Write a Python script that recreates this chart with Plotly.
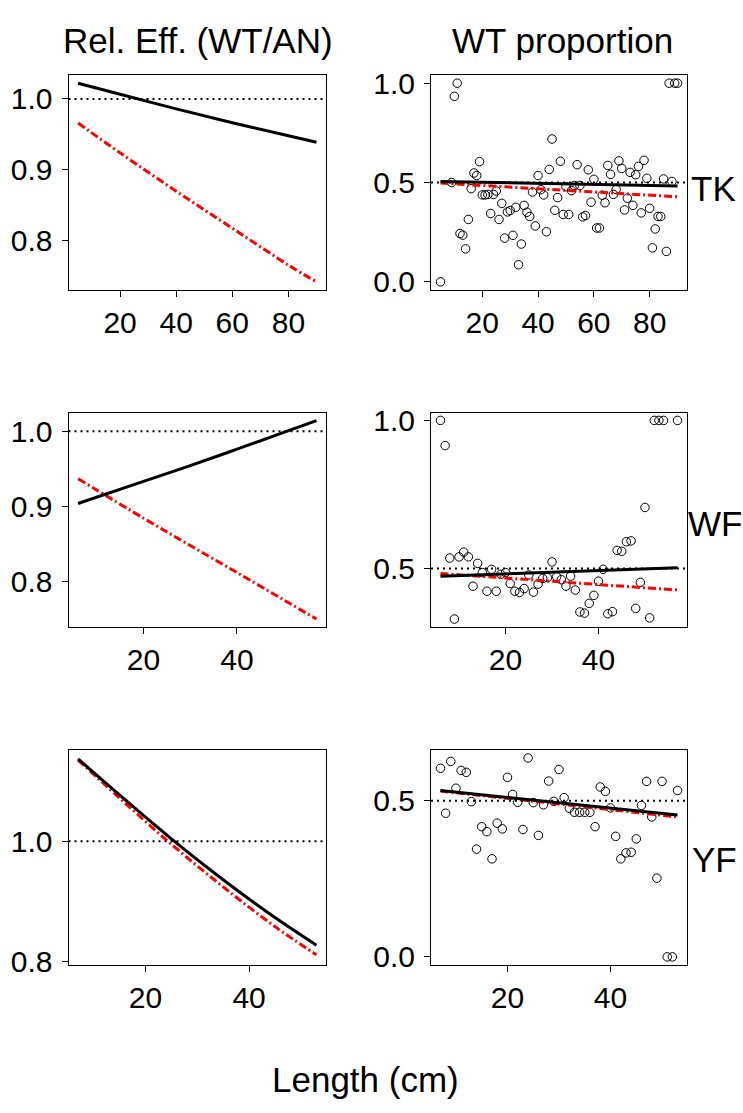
import plotly.graph_objects as go

# ---------------- data ----------------
# TK
tk_x = [5, 9, 10, 11, 12, 13, 14, 15, 16, 17, 18, 19, 20, 21, 22, 23, 24, 25, 26, 27, 28, 29, 30,
        31, 32, 33, 34, 35, 36, 37, 38, 39, 40, 41, 42, 43, 44, 45, 46, 47, 48, 49, 50, 51, 52, 53,
        54, 55, 56, 57, 58, 59, 60, 61, 62, 63, 64, 65, 66, 67, 68, 69, 70, 71, 72, 73, 74, 75, 76,
        77, 78, 79, 80, 81, 82, 83, 84, 85, 86, 87, 88, 89, 90]
tk_p = [0.0, 0.5, 0.934, 1.0, 0.243, 0.235, 0.166, 0.314, 0.469, 0.548, 0.535, 0.605, 0.4375,
        0.4375, 0.44, 0.344, 0.44, 0.457, 0.314, 0.395, 0.22, 0.352, 0.359, 0.234, 0.375, 0.086,
        0.19, 0.385, 0.35, 0.329, 0.452, 0.281, 0.535, 0.464, 0.4375, 0.252, 0.566, 0.719, 0.36,
        0.424, 0.607, 0.339, 0.479, 0.339, 0.459, 0.485, 0.59, 0.485, 0.327, 0.334, 0.564, 0.401,
        0.516, 0.271, 0.271, 0.436, 0.398, 0.586, 0.541, 0.44, 0.465, 0.609, 0.571, 0.362, 0.421,
        0.551, 0.385, 0.539, 0.581, 0.347, 0.612, 0.521, 0.37, 0.171, 0.266, 0.329, 0.329, 0.518,
        0.153, 1.0, 0.505, 1.0, 1.0]
tk_eff_x = [5, 20, 40, 60, 80, 90]
tk_eff_black = [1.022, 1.0065, 0.986, 0.9665, 0.948, 0.939]
tk_eff_red = [0.966, 0.924, 0.870, 0.818, 0.766, 0.7425]
tk_prop_x = [5, 90]
tk_prop_black = [0.505, 0.482]
tk_prop_red = [0.497, 0.428]

# WF
wf_x = list(range(6, 52)) + [52, 53, 54, 57]
wf_p = [1.0, 0.915, 0.535, 0.329, 0.539, 0.555, 0.539, 0.44, 0.517, 0.486, 0.423, 0.497, 0.423,
        0.48, 0.486, 0.449, 0.423, 0.419, 0.432, 0.478, 0.42, 0.447, 0.466, 0.469, 0.522, 0.472,
        0.462, 0.44, 0.474, 0.427, 0.353, 0.349, 0.382, 0.409, 0.457, 0.497, 0.347, 0.354, 0.561,
        0.558, 0.59, 0.593, 0.365, 0.453, 0.706, 0.333, 1.0, 1.0, 1.0, 1.0]
wf_eff_x = [6, 20, 30, 40, 50, 57]
wf_eff_black = [0.9035, 0.933, 0.954, 0.976, 0.9985, 1.014]
wf_eff_red = [0.9366, 0.884, 0.8475, 0.8115, 0.775, 0.7495]
wf_prop_x = [6, 57]
wf_prop_black = [0.474, 0.502]
wf_prop_red = [0.483, 0.427]

# YF
yf_x = list(range(7, 54))
yf_p = [0.604, 0.46, 0.626, 0.54, 0.597, 0.591, 0.497, 0.345, 0.417, 0.401, 0.314, 0.428, 0.41,
        0.575, 0.52, 0.495, 0.408, 0.637, 0.494, 0.389, 0.487, 0.563, 0.498, 0.6, 0.51, 0.476,
        0.463, 0.463, 0.463, 0.463, 0.417, 0.544, 0.53, 0.477, 0.386, 0.314, 0.333, 0.335, 0.378,
        0.485, 0.562, 0.448, 0.252, 0.562, 0.0, 0.0, 0.533]
yf_eff_x = [7, 15, 25, 35, 45, 53]
yf_eff_black = [1.137, 1.077, 1.004, 0.936, 0.873, 0.827]
yf_eff_red = [1.135, 1.072, 0.995, 0.924, 0.858, 0.811]
yf_prop_x = [7, 53]
yf_prop_black = [0.533, 0.454]
yf_prop_red = [0.531, 0.448]

species = ["TK", "WF", "YF"]
col_titles = ["Rel. Eff. (WT/AN)", "WT proportion"]
x_label = "Length (cm)"

# ---------------- layout geometry ----------------
W, H = 743, 1113
FONT = "Liberation Sans, Arial, Helvetica, sans-serif"
TICK_SIZE = 30
TITLE_SIZE = 35

col_px = [(68.5, 326), (431, 687)]
row_px = [(67, 287), (412, 630), (756, 975)]

x_ranges = [[1.6, 93.4], [3.96, 59.04], [5.16, 54.84]]
y_ranges = [
    ([0.7305, 1.0341], [-0.0429, 1.0429]),
    ([0.7395, 1.0244], [0.3037, 1.0255]),
    ([0.7946, 1.1516], [-0.0251, 0.6623]),
]
x_ticks = [[20, 40, 60, 80], [20, 40], [20, 40]]
y_ticks = [
    ([0.8, 0.9, 1.0], [0.0, 0.5, 1.0]),
    ([0.8, 0.9, 1.0], [0.5, 1.0]),
    ([0.8, 1.0], [0.0, 0.5]),
]
ref_lines = [1.0, 0.5]

panels = [
    (tk_eff_x, tk_eff_black, tk_eff_red, tk_prop_x, tk_prop_black, tk_prop_red, tk_x, tk_p),
    (wf_eff_x, wf_eff_black, wf_eff_red, wf_prop_x, wf_prop_black, wf_prop_red, wf_x, wf_p),
    (yf_eff_x, yf_eff_black, yf_eff_red, yf_prop_x, yf_prop_black, yf_prop_red, yf_x, yf_p),
]

fig = go.Figure()
layout = dict(
    width=W, height=H, autosize=False,
    margin=dict(l=0, r=0, t=0, b=0),
    paper_bgcolor="white", plot_bgcolor="white",
    showlegend=False,
    font=dict(family=FONT, size=TICK_SIZE, color="black"),
)
shapes = []
annotations = []

red_dash = "8px,3px,2px,3px"

for r in range(3):
    ex, eb, er, px_, pb, pr, sx, sp = panels[r]
    for c in range(2):
        idx = r * 2 + c + 1
        xa = "x" if idx == 1 else f"x{idx}"
        ya = "y" if idx == 1 else f"y{idx}"
        xkey = "xaxis" if idx == 1 else f"xaxis{idx}"
        ykey = "yaxis" if idx == 1 else f"yaxis{idx}"
        x0, x1 = col_px[c]
        y0, y1 = row_px[r]
        common = dict(showgrid=False, zeroline=False, showline=True, linecolor="black",
                      linewidth=1, mirror=True, ticks="outside", ticklen=6, tickwidth=1,
                      tickcolor="black", tickfont=dict(family=FONT, size=TICK_SIZE, color="black"))
        layout[xkey] = dict(common, domain=[x0 / W, x1 / W], anchor=ya,
                            range=x_ranges[r], tickmode="array", tickvals=x_ticks[r],
                            ticktext=[str(v) for v in x_ticks[r]], ticklabelstandoff=0)
        yt = y_ticks[r][c]
        layout[ykey] = dict(common, domain=[1 - y1 / H, 1 - y0 / H], anchor=xa,
                            range=y_ranges[r][c], tickmode="array", tickvals=yt,
                            ticktext=[f"{v:.1f}" for v in yt], ticklabelstandoff=3)
        # dotted reference line
        shapes.append(dict(type="line", xref=f"{xa} domain", yref=ya, x0=0, x1=1,
                           y0=ref_lines[c], y1=ref_lines[c],
                           line=dict(color="black", width=2, dash="2px,4px")))
        if c == 0:
            fig.add_trace(go.Scatter(x=ex, y=er, mode="lines", xaxis=xa, yaxis=ya,
                                     line=dict(color="#ff0000", width=3, dash=red_dash,
                                               shape="spline", smoothing=1)))
            fig.add_trace(go.Scatter(x=ex, y=eb, mode="lines", xaxis=xa, yaxis=ya,
                                     line=dict(color="black", width=3,
                                               shape="spline", smoothing=1)))
        else:
            fig.add_trace(go.Scatter(x=sx, y=sp, mode="markers", xaxis=xa, yaxis=ya,
                                     marker=dict(symbol="circle-open", size=8.5, color="black",
                                                 line=dict(width=1, color="black"))))
            fig.add_trace(go.Scatter(x=px_, y=pr, mode="lines", xaxis=xa, yaxis=ya,
                                     line=dict(color="#ff0000", width=3, dash=red_dash)))
            fig.add_trace(go.Scatter(x=px_, y=pb, mode="lines", xaxis=xa, yaxis=ya,
                                     line=dict(color="black", width=3)))

# column titles
annotations.append(dict(text=col_titles[0], xref="paper", yref="paper", x=198 / W, y=1 - 32 / H,
                        xanchor="center", yanchor="middle", showarrow=False,
                        font=dict(family=FONT, size=TITLE_SIZE, color="black")))
annotations.append(dict(text=col_titles[1], xref="paper", yref="paper", x=562 / W, y=1 - 32 / H,
                        xanchor="center", yanchor="middle", showarrow=False,
                        font=dict(family=FONT, size=TITLE_SIZE, color="black")))
# species labels
label_pos = [(689, 183), (686, 525), (690, 868)]
for s, (lx, ly) in zip(species, label_pos):
    annotations.append(dict(text=s, xref="paper", yref="paper", x=lx / W, y=1 - ly / H,
                            xanchor="left", yanchor="middle", showarrow=False,
                            font=dict(family=FONT, size=TITLE_SIZE, color="black")))
# x label
annotations.append(dict(text=x_label, xref="paper", yref="paper", x=365 / W, y=1 - 1092 / H,
                        xanchor="center", yanchor="middle", showarrow=False,
                        font=dict(family=FONT, size=TITLE_SIZE, color="black")))

layout["shapes"] = shapes
layout["annotations"] = annotations
fig.update_layout(**layout)
fig.write_html("out.html")
